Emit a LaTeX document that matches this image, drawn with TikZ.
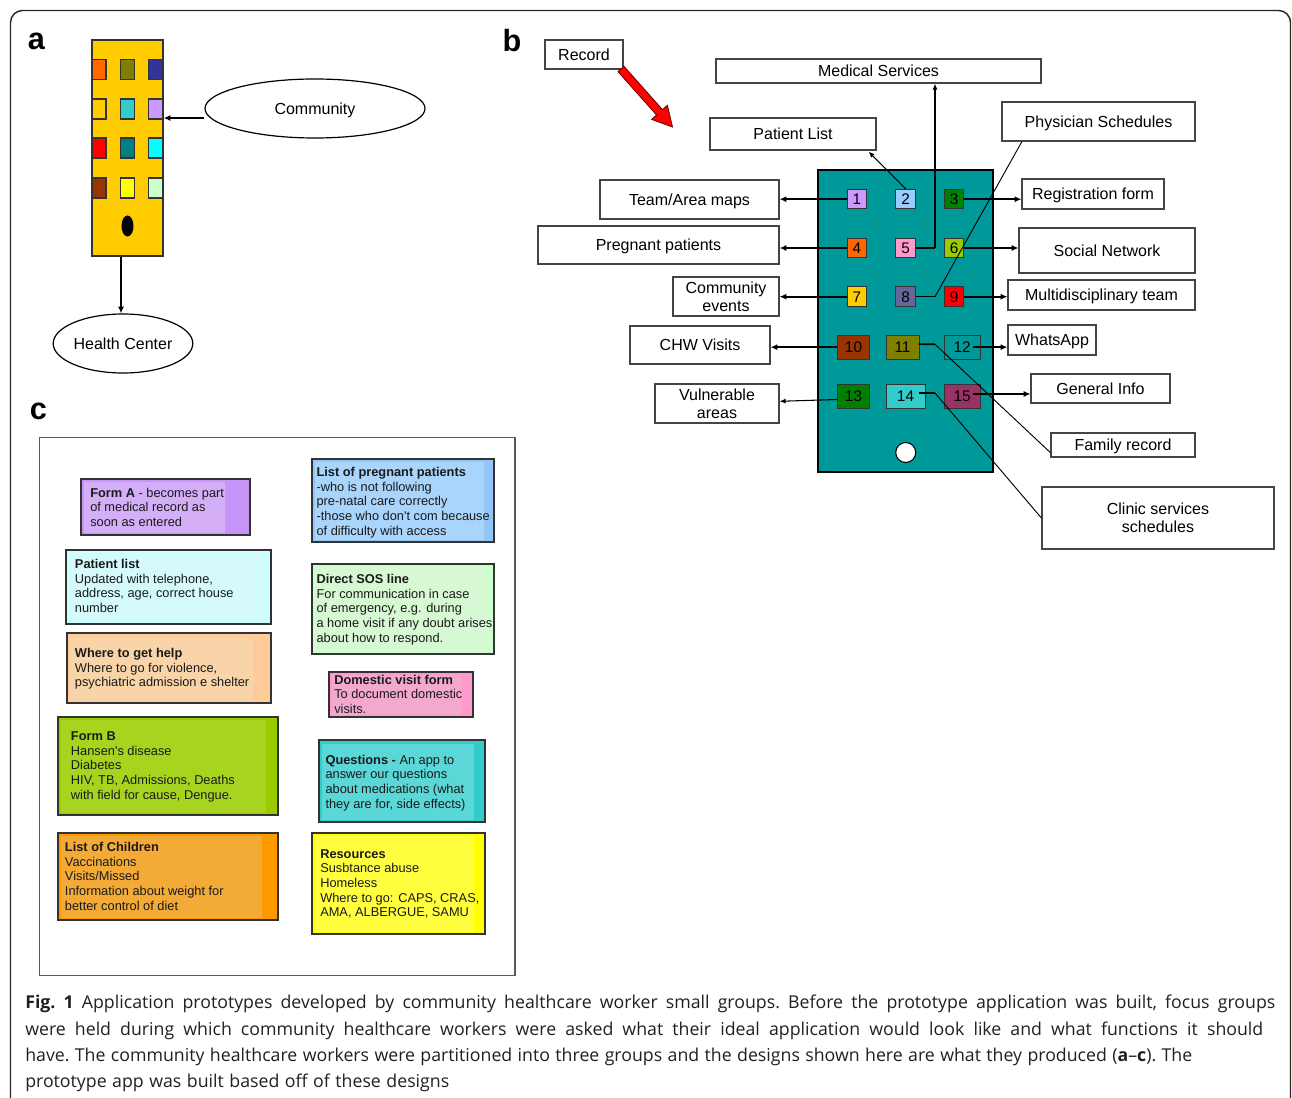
\documentclass[tikz,border=0pt]{standalone}
\usepackage{fontspec}
\setmainfont{Liberation Sans}
\newfontfamily\capfont{Open Sans}
\usetikzlibrary{arrows.meta,shapes.geometric,fit,calc}
\newcommand\sq{\XeTeXglyph\XeTeXcharglyph"0027\relax}
\definecolor{bldg}{HTML}{FFCC00}
\definecolor{wA}{HTML}{FF6600}\definecolor{wB}{HTML}{808000}\definecolor{wC}{HTML}{333399}
\definecolor{wD}{HTML}{FFCC00}\definecolor{wE}{HTML}{33CCCC}\definecolor{wF}{HTML}{CC99FF}
\definecolor{wG}{HTML}{FF0000}\definecolor{wH}{HTML}{008080}\definecolor{wI}{HTML}{00FFFF}
\definecolor{wJ}{HTML}{993300}\definecolor{wK}{HTML}{FFFF00}\definecolor{wL}{HTML}{CCFFCC}
\definecolor{phone}{HTML}{009999}
\definecolor{cA}{HTML}{CC99FF}\definecolor{cB}{HTML}{99CCFF}\definecolor{cC}{HTML}{008000}
\definecolor{cD}{HTML}{FF6600}\definecolor{cE}{HTML}{FF99CC}\definecolor{cF}{HTML}{99CC00}
\definecolor{cG}{HTML}{FFCC00}\definecolor{cH}{HTML}{666699}\definecolor{cI}{HTML}{FF0000}
\definecolor{cJ}{HTML}{993300}\definecolor{cK}{HTML}{808000}\definecolor{cL}{HTML}{009999}
\definecolor{cM}{HTML}{008000}\definecolor{cN}{HTML}{33CCCC}\definecolor{cO}{HTML}{993366}
\definecolor{boxgray}{HTML}{444444}
\definecolor{notegray}{HTML}{333333}
\definecolor{ntext}{HTML}{1A1A1A}
\definecolor{captext}{HTML}{231F20}
\definecolor{nAb}{HTML}{C693F7}\definecolor{nAi}{HTML}{D5AEF8}
\definecolor{nPb}{HTML}{93C5FB}\definecolor{nPi}{HTML}{A9D4FC}
\definecolor{nLb}{HTML}{CCFFFF}\definecolor{nLi}{HTML}{D4FAFC}
\definecolor{nSb}{HTML}{CCFFCC}\definecolor{nSi}{HTML}{D6F8D2}
\definecolor{nHb}{HTML}{FFCC99}\definecolor{nHi}{HTML}{F8D4A8}
\definecolor{nDb}{HTML}{FF99CC}\definecolor{nDi}{HTML}{F3A8CE}
\definecolor{nBb}{HTML}{99CC00}\definecolor{nBi}{HTML}{A8D420}
\definecolor{nQb}{HTML}{33CCCC}\definecolor{nQi}{HTML}{5BD7D7}
\definecolor{nCb}{HTML}{FF9900}\definecolor{nCi}{HTML}{F4AA37}
\definecolor{nRb}{HTML}{FFFF00}\definecolor{nRi}{HTML}{FFFF40}
\tikzset{
  plabel/.style={inner sep=0pt, font=\fontsize{23}{23}\selectfont\bfseries},
  bbox/.style={draw=boxgray, line width=0.9pt, fill=white, inner sep=0pt, align=center, font=\fontsize{12}{13.7}\selectfont},
  sl/.style={text height=8.6pt, text depth=0pt},
  ell/.style={ellipse, draw=black, line width=0.9pt, inner sep=0pt, font=\fontsize{12}{14}\selectfont, text height=8.6pt, text depth=0pt},
  win/.style={draw=black!80, line width=0.9pt, minimum width=10.5pt, minimum height=15pt, inner sep=0pt},
  btn/.style={draw=black!80, line width=0.75pt, inner sep=0pt, font=\fontsize{11.5}{12}\selectfont, text height=8.2pt, text depth=0pt},
  sbtn/.style={btn, minimum width=14.6pt, minimum height=14.6pt},
  thk/.style={line width=1.5pt, -{Latex[length=5pt,width=4.5pt]}},
  thn/.style={line width=0.8pt, -{Latex[length=4.5pt,width=3.8pt]}},
  thnl/.style={line width=0.7pt},
  notebox/.style={draw=notegray, line width=1.1pt, inner sep=0pt},
  notetext/.style={anchor=north west, align=left, inner sep=0pt, text=ntext, font=\fontsize{9.6}{11}\selectfont},
  captxt/.style={anchor=base west, inner sep=0pt, text=captext, font=\capfont\fontsize{13.3}{14}\selectfont\frenchspacing},
}
% box from corner coordinates (in px)
\newcommand\pbox[7][]{%
  \pgfmathsetmacro\pbcx{(#3+#5)/2}%
  \pgfmathsetmacro\pbcy{(#4+#6)/2}%
  \pgfmathsetmacro\pbw{(#5-#3)*0.75}%
  \pgfmathsetmacro\pbh{(#6-#4)*0.75}%
  \node[#1, minimum width=\pbw pt, minimum height=\pbh pt] (#2) at (\pbcx,\pbcy) {#7};}
\begin{document}
\begin{tikzpicture}[x=0.75pt, y=-0.75pt]
\useasboundingbox (0,0) rectangle (1292,1098);
% outer frame
\draw[line width=1.1pt, draw=black!85, rounded corners=9pt] (10.5,1110) -- (10.5,10.5) -- (1290.5,10.5) -- (1290.5,1110);
% panel labels
\node[plabel] (la) at (36.5,41) {a};
\node[plabel] (lb) at (512,40.5) {b};
\node[plabel] (lc) at (38.5,411) {c};

% ---------------- panel a
\node[fit={(92,40) (163,256)}, inner sep=0pt, draw=black!80, line width=1pt, fill=bldg] (bld) {};
\node[win, fill=wA] (wa1) at (99,69.5) {};
\node[win, fill=wB] (wa2) at (127.5,69.5) {};
\node[win, fill=wC] (wa3) at (155.5,69.5) {};
\node[win, fill=wD] (wa4) at (99,109) {};
\node[win, fill=wE] (wa5) at (127.5,109) {};
\node[win, fill=wF] (wa6) at (155.5,109) {};
\node[win, fill=wG] (wa7) at (99,148) {};
\node[win, fill=wH] (wa8) at (127.5,148) {};
\node[win, fill=wI] (wa9) at (155.5,148) {};
\node[win, fill=wJ] (wa10) at (99,188) {};
\node[win, fill=wK] (wa11) at (127.5,188) {};
\node[win, fill=wL] (wa12) at (155.5,188) {};
\node[ellipse, fill=black, minimum width=9pt, minimum height=15.75pt, inner sep=0pt] (door) at (127.5,226) {};
\node[ell, minimum width=165pt, minimum height=44.25pt] (comm) at (315,108.5) {Community};
\node[ell, minimum width=100.5pt, minimum height=44.25pt] (hc) at (123,343.5) {Health Center};
\coordinate (ca) at ($(comm.west)+(0,9.5)$);
\draw[thk] (ca) -- (ca -| bld.east);
\coordinate (cb) at ($(bld.south)+(-6.5,0)$);
\draw[thk] (cb) -- (cb |- hc.north);

% ---------------- panel b
\pbox[bbox,sl]{rec}{545}{40}{623}{69}{Record}
\fill[red, draw=red!40!black, line width=0.6pt] (618.0,71.65) -- (656.5,115.0) -- (651.6,119.4) -- (672.5,127) -- (667.4,105.3) -- (662.5,109.7) -- (624.0,66.35) -- cycle;
\pbox[bbox,sl]{med}{716}{59}{1041}{83}{Medical Services}
\pbox[bbox,sl]{plist}{710}{118}{876}{150}{Patient List}
\pbox[bbox,sl]{phys}{1002}{102}{1195}{141}{Physician Schedules}
\pbox[bbox,sl]{team}{600}{180}{779}{219}{Team/Area maps}
\pbox[bbox,sl,yshift=2.2pt]{preg}{538}{229}{779}{267}{Pregnant patients}
\pbox[bbox]{cev}{673}{277}{779}{316}{Community\\events}
\pbox[bbox,sl]{reg}{1022}{179}{1164}{209}{Registration form}
\pbox[bbox,sl]{soc}{1019}{228}{1195}{273}{Social Network}
\pbox[bbox,sl]{mdt}{1008}{280}{1195}{310}{Multidisciplinary team}
\pbox[bbox,sl]{chw}{630}{326}{770}{364}{CHW Visits}
\pbox[bbox,sl]{wa}{1008}{325}{1096}{355}{WhatsApp}
\pbox[bbox]{vul}{655}{384}{779}{423}{Vulnerable\\areas}
\pbox[bbox,sl]{gen}{1031}{374}{1170}{403}{General Info}
\pbox[bbox,sl]{fam}{1051}{433}{1195}{457}{Family record}
\pbox[bbox]{clin}{1042}{487}{1274}{549}{Clinic services\\schedules}
% phone
\node[fit={(818,170) (993,472)}, inner sep=0pt, draw=black, line width=1.9pt, fill=phone] (ph) {};
\node[sbtn, fill=cA] (b1) at (857,199.2) {1};
\node[sbtn, fill=cB] (b2) at (905.7,199.2) {2};
\node[sbtn, fill=cC] (b3) at (954.2,199.2) {3};
\node[sbtn, fill=cD] (b4) at (857,248) {4};
\node[sbtn, fill=cE] (b5) at (905.7,248) {5};
\node[sbtn, fill=cF] (b6) at (954.2,248) {6};
\node[sbtn, fill=cG] (b7) at (857,296.7) {7};
\node[sbtn, fill=cH] (b8) at (905.7,296.7) {8};
\node[sbtn, fill=cI] (b9) at (954.2,296.7) {9};
\pbox[btn, fill=cJ]{b10}{837.3}{335.3}{869.7}{359}{10}
\pbox[btn, fill=cK]{b11}{886}{335.3}{919}{359}{11}
\pbox[btn, fill=cL]{b12}{944.3}{335.3}{980}{359}{12}
\pbox[btn, fill=cM]{b13}{837.3}{384}{869.7}{408}{13}
\pbox[btn, fill=cN]{b14}{886}{384}{925}{408}{14}
\pbox[btn, fill=cO]{b15}{944.3}{384}{980}{408}{15}
\node[circle, fill=white, draw=black, line width=0.8pt, minimum size=15pt, inner sep=0pt] (home) at (905.7,452.5) {};
% connectors left
\draw[thk] (b1.west) -- (b1.west -| team.east);
\draw[thk] (b4.west) -- (b4.west -| preg.east);
\draw[thk] (b7.west) -- (b7.west -| cev.east);
\draw[thk] (b10.west) -- (b10.west -| chw.east);
\coordinate (s13) at ($(b13.west)+(0,3.5)$);
\draw[thn] (s13) -- ($(vul.east)+(0,-2.2)$);
% connectors right
\draw[thk] (b3.east) -- (b3.east -| reg.west);
\draw[thk] (b6.east) -- (b6.east -| soc.west);
\draw[thk] (b9.east) -- (b9.east -| mdt.west);
\coordinate (s12) at ($(b12.center)+(11,0)$);
\draw[thk] (s12) -- (s12 -| wa.west);
\coordinate (s15) at ($(b15.center)+(11,-2)$);
\draw[thk] (s15) -- (s15 -| gen.west);
% connectors up / diagonal
\draw[thn] (b2.north) -- ($(plist.south east)+(-8,1)$);
\coordinate (k5) at (935,248);
\draw[line width=1.2pt] (b5.east) -- (k5);
\draw[thn] (k5) -- (k5 |- med.south);
\coordinate (k8) at (935,296.7);
\draw[line width=1.2pt] (b8.east) -- (k8);
\draw[thnl] (k8) -- ($(phys.south west)+(20.5,0)$);
\coordinate (s11) at ($(b11.east)+(-1,-3)$);
\coordinate (k11) at (935,344.3);
\draw[line width=1.2pt] (s11) -- (k11);
\draw[thnl] (k11) -- ($(fam.south west)+(0,-5)$);
\coordinate (s14) at ($(b14.east)+(-7,-3)$);
\coordinate (k14) at (935,393);
\draw[line width=1.2pt] (s14) -- (k14);
\draw[thnl] (k14) -- (clin.west);

% ---------------- panel c
\node[fit={(39.5,437.5) (515,975.5)}, inner sep=0pt, draw=black!65, line width=1.1pt] (cframe) {};
% Form A
\node[notebox, fill=nAb, fit={(81,479) (250,535)}] (nA) {};
\fill[nAi] (83.5,481.5) rectangle (225,532.5);
\node[notetext] (tA) at (90,487.5) {\textbf{Form A} - becomes part\\of medical record as\\soon as entered};
% List of pregnant patients
\node[notebox, fill=nPb, fit={(312,459) (494,542)}] (nP) {};
\fill[nPi] (314.5,461.5) rectangle (484,539.5);
\node[notetext] (tP) at (316.3,466.8) {\textbf{List of pregnant patients}\\-who is not following\\pre-natal care correctly\\-those who don\sq t com because\\of difficulty with access};
% Patient list
\node[notebox, fill=nLb, fit={(66,550) (271,624)}] (nL) {};
\fill[nLi] (68.5,552.5) rectangle (263,621.5);
\node[notetext] (tL) at (74.7,558.8) {\textbf{Patient list}\\Updated with telephone,\\address, age, correct house\\number};
% Direct SOS line
\node[notebox, fill=nSb, fit={(312,564) (494,654)}] (nS) {};
\fill[nSi] (314.5,566.5) rectangle (486,651.5);
\node[notetext] (tS) at (316.3,573.8) {\textbf{Direct SOS line}\\For communication in case\\of emergency, e.g. during\\a home visit if any doubt arises\\about how to respond.};
% Where to get help
\node[notebox, fill=nHb, fit={(67,633) (271,703)}] (nH) {};
\fill[nHi] (70,638) rectangle (253,700.5);
\node[notetext] (tH) at (74.7,648.1) {\textbf{Where to get help}\\Where to go for violence,\\psychiatric admission e shelter};
% Domestic visit form
\node[notebox, fill=nDb, fit={(329,672) (473,717)}] (nD) {};
\fill[nDi] (331.5,674.5) rectangle (462,714.5);
\node[notetext] (tD) at (334,674.5) {\textbf{Domestic visit form}\\To document domestic\\visits.};
% Form B
\node[notebox, fill=nBb, fit={(58,717) (278,815)}] (nB) {};
\fill[nBi] (60.5,719.5) rectangle (266,812.5);
\node[notetext] (tB) at (70.7,731.5) {\textbf{Form B}\\Hansen\sq s disease\\Diabetes\\HIV, TB, Admissions, Deaths\\with field for cause, Dengue.};
% Questions
\node[notebox, fill=nQb, fit={(319,740) (485,822)}] (nQ) {};
\fill[nQi] (321.5,744) rectangle (474,819.5);
\node[notetext] (tQ) at (325.3,754.5) {\textbf{Questions -} An app to\\answer our questions\\about medications (what\\they are for, side effects)};
% List of Children
\node[notebox, fill=nCb, fit={(58,833) (278,920)}] (nC) {};
\fill[nCi] (60.5,836) rectangle (262,917.5);
\node[notetext] (tC) at (64.7,841.8) {\textbf{List of Children}\\Vaccinations\\Visits/Missed\\Information about weight for\\better control of diet};
% Resources
\node[notebox, fill=nRb, fit={(312,833) (485,934)}] (nR) {};
\fill[nRi] (314.5,836) rectangle (474,931.5);
\node[notetext] (tR) at (320,849.1) {\textbf{Resources}\\Susbtance abuse\\Homeless\\Where to go: CAPS, CRAS,\\AMA, ALBERGUE, SAMU};

% ---------------- caption
\node[captxt] (cap1) at (25,1008.3) {\makebox[937.5pt][s]{\textbf{Fig. 1} Application prototypes developed by community healthcare worker small groups. Before the prototype application was built, focus groups}};
\node[captxt] (cap2) at (25,1035) {\makebox[928.5pt][s]{were held during which community healthcare workers were asked what their ideal application would look like and what functions it should}};
\node[captxt] (cap3) at (25,1061.3) {\makebox[875.25pt][s]{have. The community healthcare workers were partitioned into three groups and the designs shown here are what they produced (\textbf{a}\textendash\textbf{c}). The}};
\node[captxt] (cap4) at (25,1087.3) {\makebox[318pt][s]{prototype app was built based off of these designs}};
\end{tikzpicture}
\end{document}
